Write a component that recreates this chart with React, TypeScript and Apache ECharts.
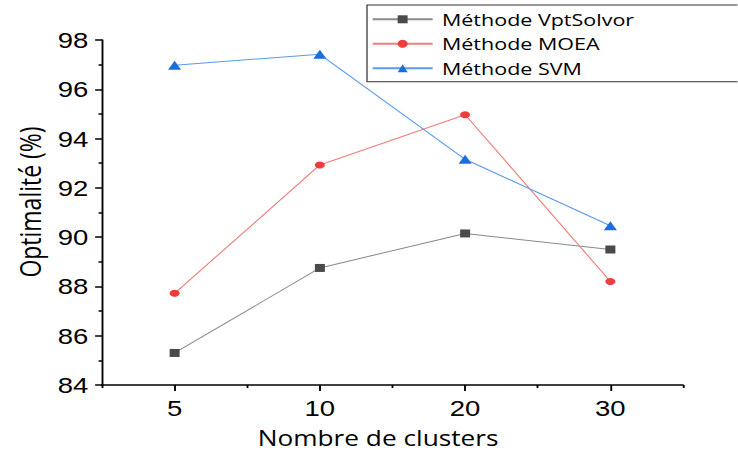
import React, { useEffect, useRef } from "react";
import * as echarts from "echarts";

// ---- data ----
const categories = ["5", "10", "20", "30"];
const seriesNames = ["Méthode VptSolvor", "Méthode MOEA", "Méthode SVM"];
const vptSolvor = [85.3, 88.75, 90.15, 89.5];
const moea = [87.72, 92.93, 94.97, 88.2];
const svm = [96.98, 97.42, 93.16, 90.46];
const yMin = 84;
const yMax = 98;
const yStep = 2;
const xTitle = "Nombre de clusters";
const yTitle = "Optimalité (%)";

// the reference picture is stretched horizontally
const SX = 1.25;
const W = 738 / SX;
const H = 455;

const AXIS = "#000";
const NUM_FONT = "'Liberation Sans', Arial, sans-serif";
const TXT_FONT = "'Open Sans', 'Noto Sans', sans-serif";

export default function App() {
  const ref = useRef<HTMLDivElement>(null);

  useEffect(() => {
    if (!ref.current) return;
    const chart = echarts.init(ref.current, null, { renderer: "svg", width: W, height: H });
    const axisLine = { show: true, lineStyle: { color: AXIS, width: 1.5 } };
    chart.setOption({
      animation: false,
      backgroundColor: "#fff",
      grid: { left: 102 / SX, right: (738 - 683) / SX, top: 40, bottom: 70, containLabel: false },
      legend: {
        orient: "vertical",
        left: 367 / SX,
        top: 5,
        itemWidth: 48,
        itemHeight: 10,
        itemGap: 6.5,
        padding: [5.3, 130, 4.4, 3.5],
        borderColor: "#333",
        borderWidth: 1,
        textStyle: { fontSize: 17.2, fontFamily: TXT_FONT, color: "#000", lineHeight: 18, padding: [0, 0, 0, 2.5] },
        data: seriesNames,
      },
      xAxis: [
        {
          type: "category",
          data: categories,
          boundaryGap: true,
          axisLine,
          axisTick: { show: true, alignWithLabel: true, length: 6, lineStyle: { color: AXIS, width: 1.5 } },
          axisLabel: { fontSize: 22, fontFamily: NUM_FONT, color: "#000", margin: 12 },
          splitLine: { show: false },
          name: xTitle,
          nameLocation: "middle",
          nameGap: 42.5,
          nameTextStyle: { fontSize: 21, fontFamily: TXT_FONT, color: "#000", padding: [0, 23, 0, 0] },
        },
        {
          type: "category",
          data: categories,
          boundaryGap: true,
          position: "bottom",
          axisLine: { show: false },
          axisTick: { show: true, length: 3, lineStyle: { color: AXIS, width: 1.5 } },
          axisLabel: { show: false },
          splitLine: { show: false },
        },
      ],
      yAxis: {
        type: "value",
        min: yMin,
        max: yMax,
        interval: yStep,
        axisLine,
        axisTick: { show: true, length: 5.5, lineStyle: { color: AXIS, width: 1.5 } },
        minorTick: { show: true, splitNumber: 2, length: 2.8, lineStyle: { color: AXIS, width: 1.5 } },
        splitLine: { show: false },
        minorSplitLine: { show: false },
        axisLabel: { fontSize: 22, fontFamily: NUM_FONT, color: "#000", margin: 11 },
        name: yTitle,
        nameLocation: "middle",
        nameGap: 46,
        nameTextStyle: { fontSize: 23, fontFamily: TXT_FONT, color: "#000", padding: [0, 0, 0, 21] },
      },
      series: [
        {
          name: seriesNames[0],
          type: "line",
          data: vptSolvor,
          symbol: "rect",
          symbolSize: 8,
          lineStyle: { color: "#8a8a8a", width: 1 },
          itemStyle: { color: "#4a4a4a" },
        },
        {
          name: seriesNames[1],
          type: "line",
          data: moea,
          symbol: "circle",
          symbolSize: [8, 7],
          lineStyle: { color: "#f47c7c", width: 1 },
          itemStyle: { color: "#ee3b3b" },
        },
        {
          name: seriesNames[2],
          type: "line",
          data: svm,
          symbol: "triangle",
          symbolSize: [10.5, 9],
          lineStyle: { color: "#5b9bea", width: 1 },
          itemStyle: { color: "#1a6fdd" },
        },
      ],
    });
    return () => chart.dispose();
  }, []);

  return (
    <div style={{ position: "fixed", left: 0, top: 0, width: 738, height: 455, overflow: "hidden", background: "#fff" }}>
      <div
        ref={ref}
        style={{ width: W, height: H, transform: `scaleX(${SX})`, transformOrigin: "0 0" }}
      />
    </div>
  );
}
